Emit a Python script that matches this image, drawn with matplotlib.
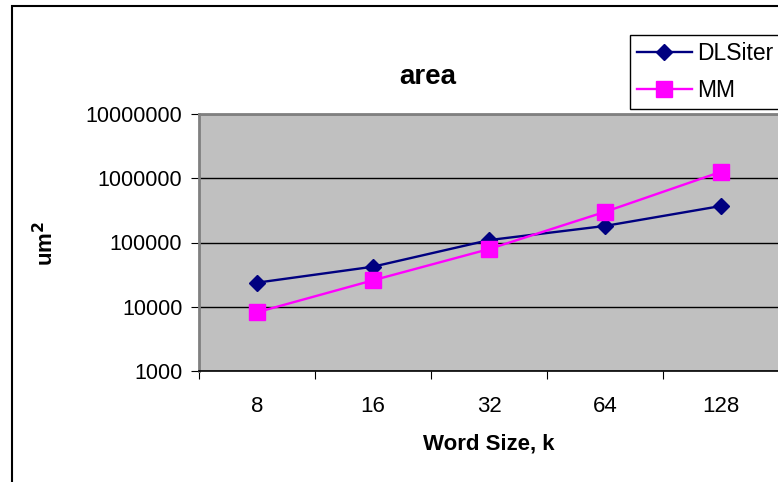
import matplotlib.pyplot as plt
from matplotlib.patches import Rectangle
from matplotlib.ticker import FixedLocator, NullLocator

plt.rcParams['font.family'] = ['Liberation Sans', 'DejaVu Sans']

word_sizes = ['8', '16', '32', '64', '128']
dlsiter = [23700, 42000, 109000, 181000, 370000]
mm = [8200, 25800, 79000, 300000, 1260000]
y_ticks = [1000, 10000, 100000, 1000000, 10000000]

fig = plt.figure(figsize=(7.78, 4.82), dpi=100)
fig.patch.set_facecolor('white')

# outer chart frame (runs off the right/bottom edges)
fig.patches.append(Rectangle((12 / 778, -0.1), 1.2, 1 - 6 / 482 + 0.1,
                             transform=fig.transFigure, fill=False,
                             edgecolor='black', linewidth=1.5))

ax = fig.add_axes([199 / 778, 111 / 482, 580 / 778, 257 / 482])
ax.set_facecolor('#C0C0C0')

x = range(len(word_sizes))
ax.plot(x, dlsiter, color='#000080', marker='D', markersize=8, linewidth=1.7, label='DLSiter')
ax.plot(x, mm, color='#FF00FF', marker='s', markersize=11, linewidth=1.7, label='MM')

ax.set_yscale('log')
ax.set_ylim(1000, 10000000)
ax.yaxis.set_major_locator(FixedLocator(y_ticks))
ax.yaxis.set_minor_locator(NullLocator())
ax.set_yticklabels([str(v) for v in y_ticks], fontsize=15.5)
ax.grid(axis='y', color='black', linewidth=1)

ax.set_xlim(-0.5, 4.5)
ax.set_xticks([i + 0.5 for i in range(-1, 5)])
ax.set_xticklabels([])
ax.set_xticks(list(x), minor=True)
ax.set_xticklabels(word_sizes, minor=True, fontsize=16)
ax.tick_params(axis='x', which='minor', length=0, pad=18)
ax.tick_params(axis='x', which='major', length=5.5, direction='out', color='black')
ax.tick_params(axis='y', length=6, direction='out', pad=6)

for side in ['top', 'left']:
    ax.spines[side].set_color('#808080')
    ax.spines[side].set_linewidth(2)
ax.spines['right'].set_visible(False)
ax.spines['bottom'].set_color('black')
ax.spines['bottom'].set_linewidth(1.2)

fig.text(428 / 778, 1 - 77 / 482, 'area', fontsize=20, fontweight='bold', ha='center', va='center')
fig.text(489 / 778, 1 - 444 / 482, 'Word Size, k', fontsize=16, fontweight='bold', ha='center', va='center')
fig.text(46 / 778, 1 - 243 / 482, 'um$^\\mathbf{2}$', fontsize=16, fontweight='bold', rotation=90,
         ha='center', va='center')

leg = fig.legend(loc='upper left', bbox_to_anchor=(630 / 778, 1 - 35 / 482), fontsize=16.5,
                 frameon=True, fancybox=False, edgecolor='black', framealpha=1,
                 handlelength=2.4, borderpad=0.3, labelspacing=0.62, handletextpad=0.25,
                 borderaxespad=0)
leg.get_frame().set_linewidth(1)

fig.savefig('out.png', dpi=100)
